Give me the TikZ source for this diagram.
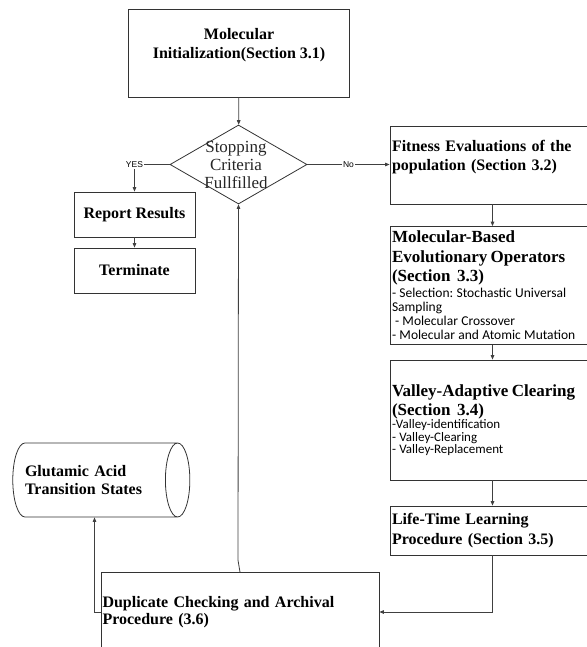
\documentclass[tikz,border=0pt]{standalone}
\usepackage{fontspec}
\setmainfont{Liberation Serif}
\newfontfamily\calibrifont{Carlito}
\newfontfamily\arialfont{Liberation Sans}
\usepackage{tikz}
\usetikzlibrary{shapes.geometric,arrows.meta}

\begin{document}
\begin{tikzpicture}[x=1pt,y=-1pt,
    >={Triangle[length=4.5pt,width=3.6pt]},
    procbox/.style={draw=black!80, line width=0.8pt, rectangle, inner sep=0pt},
    headfont/.style={font=\fontsize{16}{19}\selectfont\bfseries},
    leftbox/.style={procbox, text width=201pt, inner xsep=2pt, align=left},
    flowline/.style={->, draw=black!75, line width=0.8pt},
    answer/.style={font=\arialfont\fontsize{8.5}{9}\selectfont, fill=white, inner sep=1pt}
  ]
  \useasboundingbox (0,0) rectangle (586,647);

  % start and stopping test
  \node[procbox, headfont, align=center, minimum width=221.5pt, minimum height=88pt] (init) at (239,53)
    {Molecular\\Initialization(Section 3.1)\\\mbox{}};
  \node[diamond, draw=black!80, line width=0.8pt, minimum width=137pt, minimum height=79pt, inner sep=0pt] (diam) at (238.5,164.5) {};
  \node[font=\fontsize{17}{18}\selectfont, text=black!85, align=center] (crit) at (236,164.5) {Stopping\\Criteria\\Fullfilled};

  % yes branch
  \node[procbox, headfont, minimum width=121pt, minimum height=45pt] (report) at (134.5,214.5) {Report Results};
  \node[procbox, headfont, minimum width=121pt, minimum height=45pt] (term) at (134.5,270.5) {Terminate};

  % no branch, right column
  \node[leftbox, headfont, minimum height=78pt] (fit) at (492.5,165)
    {Fitness Evaluations of the\\population (Section 3.2)\\\mbox{}};
  \node[leftbox, minimum height=118pt] (ops) at (492.5,285.5)
    {{\fontsize{17}{19.5}\selectfont\bfseries Molecular-Based\\Evolutionary Operators\\(Section~~3.3)\par}\vskip2pt
     {\calibrifont\fontsize{13.5}{14}\selectfont - Selection:\ Stochastic Universal\\Sampling\\\hspace*{3pt}- Molecular Crossover\\- Molecular and Atomic Mutation\par}};
  \node[leftbox, minimum height=120pt] (valley) at (492.5,420)
    {{\fontsize{17}{19}\selectfont\bfseries Valley-Adaptive Clearing\\(Section~~3.4)\par}\vskip1pt
     {\calibrifont\fontsize{13}{12.5}\selectfont\lineskiplimit=-5pt -Valley-identification\\- Valley-Clearing\\- Valley-Replacement\par}};
  \node[leftbox, font=\fontsize{16}{20}\selectfont\bfseries, minimum height=49pt] (life) at (492.5,530.5)
    {Life-Time Learning\\Procedure (Section 3.5)};

  % archive
  \node[procbox, text width=275pt, inner xsep=1.5pt, align=left, font=\fontsize{16}{17.5}\selectfont\bfseries, minimum height=79pt] (dup) at (240,612)
    {Duplicate Checking and Archival\\Procedure (3.6)};
  \node[cylinder, shape border rotate=0, aspect=0.85, draw=black!80, line width=0.8pt, minimum width=74pt, minimum height=144pt,
        text width=140pt, align=left, inner sep=0pt, font=\fontsize{16}{17.5}\selectfont\bfseries] (glut) at (95,480)
    {Glutamic Acid\\Transition States};
  \coordinate (bend) at (94.5,612);

  % connectors
  \draw[flowline] (init) -- (diam);
  \draw[flowline] (diam.west) -| node[answer]{YES} (report.north);
  \draw[flowline] (report) -- (term);
  \draw[flowline] (diam.east) -- node[answer]{No} (diam.east -| fit.west);
  \draw[flowline] (fit) -- (ops);
  \draw[flowline] (ops) -- (valley);
  \draw[flowline] (valley) -- (life);
  \draw[flowline] (life.south) |- (dup.east);
  \draw[flowline] (dup.north) -- ++(-2,-12) -- (diam.south);
  \draw[flowline] (dup.west) -- (bend) -- (bend |- glut.south);
\end{tikzpicture}
\end{document}
